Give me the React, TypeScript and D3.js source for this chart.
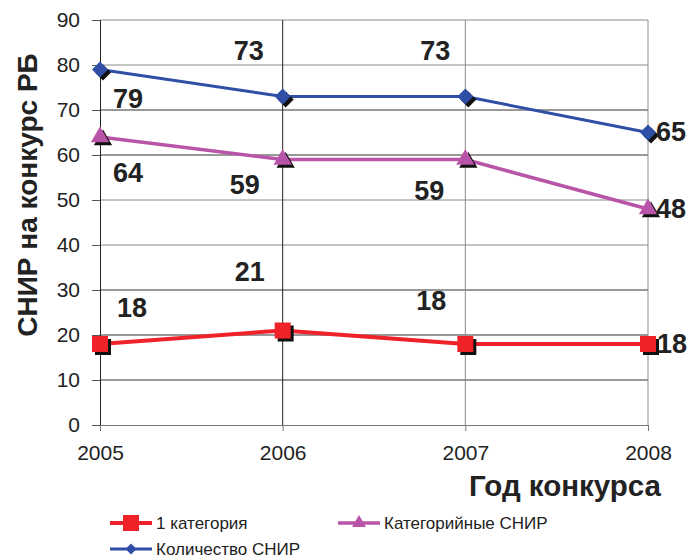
import { useRef, useEffect } from 'react';
import * as d3 from 'd3';

const years = ['2005', '2006', '2007', '2008'];
const firstCategory = [18, 21, 18, 18];
const categorySnir = [64, 59, 59, 48];
const totalSnir = [79, 73, 73, 65];
const yTicks = [0, 10, 20, 30, 40, 50, 60, 70, 80, 90];

const W = 689;
const H = 559;
const FONT = '"Liberation Sans", Arial, sans-serif';

type Series = {
  name: string;
  values: number[];
  color: string;
  marker: 'square' | 'triangle' | 'diamond';
  width: number;
  // label placement relative to the point: [dx, dy, anchor]
  labels: [number, number, string][];
};

const series: Series[] = [
  {
    name: 'Количество СНИР',
    values: totalSnir,
    color: '#2f4ea6',
    marker: 'diamond',
    width: 3,
    labels: [[28, 38, 'middle'], [-34, -37, 'middle'], [-30, -37, 'middle'], [8, 8, 'start']],
  },
  {
    name: 'Категорийные СНИР',
    values: categorySnir,
    color: '#b955a8',
    marker: 'triangle',
    width: 3.5,
    labels: [[28, 45, 'middle'], [-38, 34, 'middle'], [-36, 40, 'middle'], [8, 9, 'start']],
  },
  {
    name: '1 категория',
    values: firstCategory,
    color: '#ee2228',
    marker: 'square',
    width: 4,
    labels: [[32, -27, 'middle'], [-33, -50, 'middle'], [-34, -34, 'middle'], [9, 9, 'start']],
  },
];

function markerPath(kind: string, size: number): string {
  if (kind === 'square') return d3.symbol(d3.symbolSquare, size * size)()!;
  if (kind === 'diamond') {
    const r = size / 2;
    return `M0,${-r}L${r},0L0,${r}L${-r},0Z`;
  }
  return d3.symbol(d3.symbolTriangle, size * size * 0.5)()!;
}

export default function App() {
  const svgRef = useRef<SVGSVGElement>(null);

  useEffect(() => {
    if (!svgRef.current) return;
    const svg = d3.select(svgRef.current);
    svg.selectAll('*').remove();

    const x = d3.scalePoint<string>().domain(years).range([100, 648]);
    const y = d3.scaleLinear().domain([0, 90]).range([425, 20]);

    const darkRows = new Set([70, 60, 30, 20, 10]);

    // Horizontal grid
    svg.append('g')
      .selectAll('line')
      .data(yTicks.filter((t) => t > 0))
      .enter()
      .append('line')
      .attr('x1', x('2005')!).attr('x2', x('2008')!)
      .attr('y1', (d) => y(d)).attr('y2', (d) => y(d))
      .attr('stroke', (d) => (darkRows.has(d) ? '#333' : '#8a8a8a'))
      .attr('stroke-width', 1);

    // Vertical grid
    svg.append('g')
      .selectAll('line')
      .data(years.slice(1))
      .enter()
      .append('line')
      .attr('x1', (d) => x(d)!).attr('x2', (d) => x(d)!)
      .attr('y1', y(90)).attr('y2', y(0))
      .attr('stroke', (d) => (d === '2006' ? '#222' : '#8a8a8a'))
      .attr('stroke-width', 1);

    // Y axis
    const yAxis = svg.append('g')
      .attr('transform', `translate(${x('2005')},0)`)
      .call(d3.axisLeft(y).tickValues(yTicks).tickSize(8).tickPadding(12));
    yAxis.select('.domain').attr('stroke', '#222');
    yAxis.selectAll('line').attr('stroke', '#555');
    yAxis.selectAll('text')
      .attr('fill', '#222')
      .attr('font-size', 21)
      .attr('font-family', FONT);

    // X axis
    const xAxis = svg.append('g')
      .attr('transform', `translate(0,${y(0)})`)
      .call(d3.axisBottom(x).tickSize(6).tickSizeOuter(0).tickPadding(14));
    xAxis.select('.domain').attr('stroke', '#777').attr('stroke-width', 1.2);
    xAxis.selectAll('line').attr('stroke', '#777');
    xAxis.selectAll('text')
      .attr('fill', '#222')
      .attr('font-size', 21)
      .attr('font-family', FONT);

    // Lines, markers and labels
    const line = d3.line<number>()
      .x((_, i) => x(years[i])!)
      .y((d) => y(d));

    series.forEach((s) => {
      svg.append('path')
        .datum(s.values)
        .attr('d', line)
        .attr('fill', 'none')
        .attr('stroke', s.color)
        .attr('stroke-width', s.width)
        .attr('stroke-linejoin', 'round');

      const size = s.marker === 'triangle' ? 17 : 16;
      const pts = svg.append('g');
      s.values.forEach((v, i) => {
        const px = x(years[i])!;
        const py = y(v);
        pts.append('path')
          .attr('d', markerPath(s.marker, size))
          .attr('transform', `translate(${px + 3},${py + 3})`)
          .attr('fill', '#111');
        pts.append('path')
          .attr('d', markerPath(s.marker, size))
          .attr('transform', `translate(${px},${py})`)
          .attr('fill', s.color);
      });

      s.values.forEach((v, i) => {
        const [dx, dy, anchor] = s.labels[i];
        svg.append('text')
          .attr('x', x(years[i])! + dx)
          .attr('y', y(v) + dy)
          .attr('text-anchor', anchor)
          .attr('font-family', FONT)
          .attr('font-weight', 700)
          .attr('font-size', 27)
          .attr('fill', '#222')
          .text(v);
      });
    });

    // Axis titles
    svg.append('text')
      .attr('transform', 'translate(37,195) rotate(-90)')
      .attr('text-anchor', 'middle')
      .attr('font-family', FONT)
      .attr('font-weight', 700)
      .attr('font-size', 28)
      .attr('fill', '#222')
      .text('СНИР на конкурс РБ');

    svg.append('text')
      .attr('x', 661)
      .attr('y', 496)
      .attr('text-anchor', 'end')
      .attr('font-family', FONT)
      .attr('font-weight', 700)
      .attr('font-size', 29.5)
      .attr('fill', '#222')
      .text('Год конкурса');

    // Legend
    const legendItems = [
      { s: series[2], x: 110, y: 523 },
      { s: series[1], x: 338, y: 523 },
      { s: series[0], x: 110, y: 549 },
    ];
    legendItems.forEach(({ s, x: lx, y: ly }) => {
      const g = svg.append('g').attr('transform', `translate(${lx},${ly})`);
      g.append('line')
        .attr('x1', 0).attr('x2', 42)
        .attr('y1', 0).attr('y2', 0)
        .attr('stroke', s.color)
        .attr('stroke-width', s.width);
      const ms = s.marker === 'square' ? 16 : s.marker === 'diamond' ? 11 : 13;
      g.append('path')
        .attr('d', markerPath(s.marker, ms))
        .attr('transform', 'translate(21,0)')
        .attr('fill', s.color);
      g.append('text')
        .attr('x', 46)
        .attr('y', 6)
        .attr('font-family', FONT)
        .attr('font-size', 17)
        .attr('fill', '#222')
        .text(s.name);
    });
  }, []);

  return (
    <svg
      ref={svgRef}
      width={W}
      height={H}
      style={{ position: 'absolute', left: 0, top: 0, background: '#fff' }}
    />
  );
}
